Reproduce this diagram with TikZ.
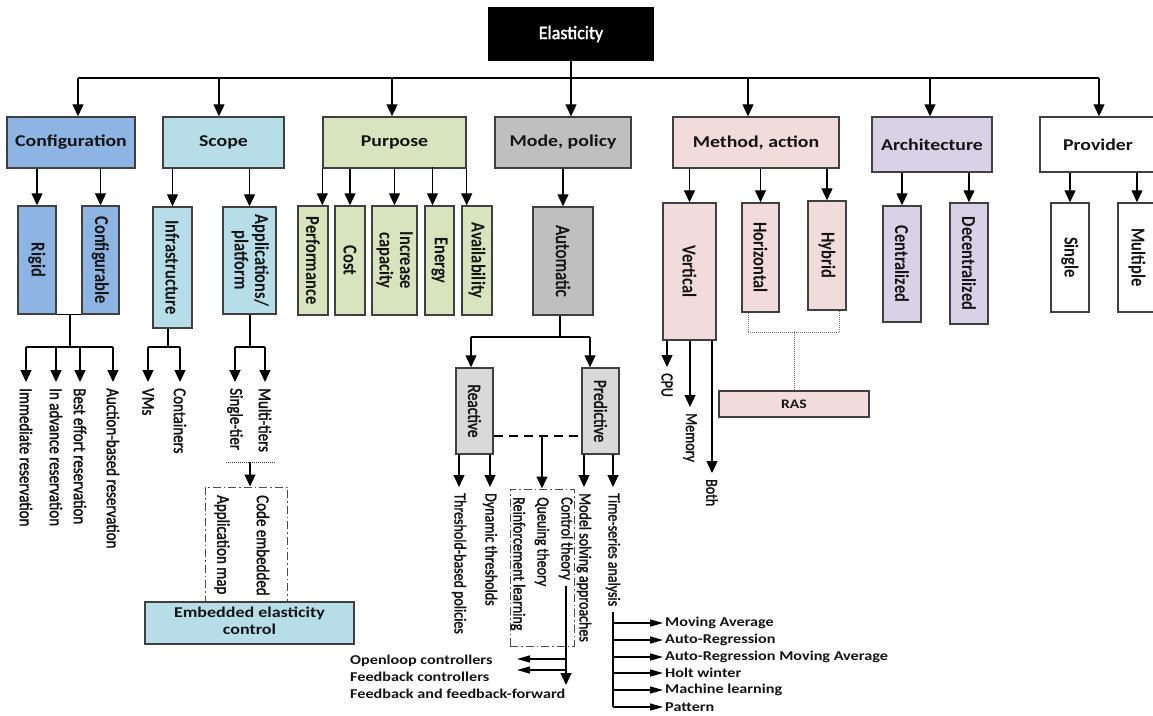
\documentclass[tikz,border=0pt]{standalone}
\usepackage{fontspec}
\setmainfont{Carlito}
\newfontfamily\medfont[FakeBold=2]{Carlito}
\usepackage{graphicx}
\usetikzlibrary{arrows.meta,calc}
\definecolor{cConf}{HTML}{8EB4E3}
\definecolor{cScope}{HTML}{B7DEE8}
\definecolor{cPurp}{HTML}{D7E4BD}
\definecolor{cMode}{HTML}{BFBFBF}
\definecolor{cReact}{HTML}{D9D9D9}
\definecolor{cMeth}{HTML}{F2DCDB}
\definecolor{cArch}{HTML}{D9D2E6}
\definecolor{cBord}{HTML}{404040}
\definecolor{cTxt}{HTML}{141414}
\newcommand{\hstr}[1]{\scalebox{1.2}[1]{#1}}
\newcommand{\vstr}[1]{\rotatebox{-90}{\scalebox{1}[1.2]{#1}}}
\newcommand{\vtwo}[2]{\rotatebox{-90}{\scalebox{1}[1.2]{\begin{tabular}{@{}c@{}}#1\\[-2pt]#2\end{tabular}}}}
\tikzset{
  box/.style={draw=cBord, line width=1.4pt, inner sep=0pt, text=cTxt, font=\bfseries\fontsize{16.5}{19}\selectfont},
  bx/.style 2 args={box, minimum width=#1pt, minimum height=#2pt},
  lab/.style={anchor=north, inner xsep=0pt, inner ysep=6pt, text=cTxt, font=\medfont\fontsize{15}{17}\selectfont},
  slab/.style={lab, font=\medfont\fontsize{14}{16}\selectfont},
  hlab/.style={anchor=west, inner xsep=2pt, inner ysep=0pt, text=cTxt, font=\bfseries\fontsize{13.5}{15}\selectfont},
  conn/.style={line width=1.2pt, draw=black},
  arr/.style={conn, -{Triangle[length=12pt,width=11pt]}},
  harr/.style={conn, -{Triangle[length=13pt,width=7pt]}},
  ddot/.style={draw=black!70, line width=1pt, dash pattern=on 8pt off 3pt on 1.5pt off 3pt, inner sep=0pt},
  dline/.style={conn, dash pattern=on 9pt off 6pt},
  dotl/.style={draw=black!55, line width=1pt, densely dotted},
}
\begin{document}
\begin{tikzpicture}[x=1pt,y=-1pt]
\useasboundingbox (0,0) rectangle (1153,715);
\clip (0,0) rectangle (1153,715);

% ---------- level 1 and 2
\node[bx={164}{52}, fill=black, draw=black, text=white, font=\medfont\fontsize{18}{20}\selectfont] (el) at (571,34) {\scalebox{1.0}[1.05]{Elasticity}};
\node[bx={128}{51}, fill=cConf] (conf) at (71,142.5) {\hstr{Configuration}};
\node[bx={121}{51}, fill=cScope] (scope) at (223.5,142.5) {\hstr{Scope}};
\node[bx={143}{51}, fill=cPurp] (purp) at (394.5,142.5) {\hstr{Purpose}};
\node[bx={136}{51}, fill=cMode] (mode) at (563,142.5) {\hstr{Mode, policy}};
\node[bx={166}{51}, fill=cMeth] (meth) at (756,142.5) {\hstr{Method, action}};
\node[bx={120}{55}, fill=cArch] (arch) at (932,144.5) {\hstr{Architecture}};
\node[bx={116}{55}, fill=white] (prov) at (1098,144.5) {\hstr{Provider}};

% ---------- level 3
\node[bx={38}{108}, fill=cConf] (rigid) at (37,260) {\vstr{Rigid}};
\node[bx={37}{108}, fill=cConf] (confg) at (100.5,260) {\vstr{Configurable}};
\node[bx={39}{121}, fill=cScope] (infra) at (172.5,267.5) {\vstr{Infrastructure}};
\node[bx={53}{107}, fill=cScope] (apps) at (249.5,260.5) {\vtwo{Applications/}{platform}};
\node[bx={30}{109}, fill=cPurp] (perf) at (313,260.5) {\vstr{Performance}};
\node[bx={30}{109}, fill=cPurp] (cost) at (350,260.5) {\vstr{Cost}};
\node[bx={45}{109}, fill=cPurp] (incr) at (394.5,260.5) {\vtwo{Increase}{capacity}};
\node[bx={29}{109}, fill=cPurp] (energy) at (439.5,260.5) {\vstr{Energy}};
\node[bx={30}{109}, fill=cPurp] (avail) at (477,260.5) {\vstr{Availability}};
\node[bx={60}{108}, fill=cMode, font=\medfont\fontsize{17}{19}\selectfont] (auto) at (563,261) {\vstr{Automatic}};
\node[bx={53}{137}, fill=cMeth] (vert) at (689.5,271.5) {\vstr{Vertical}};
\node[bx={37}{109}, fill=cMeth] (horiz) at (760.5,257.5) {\vstr{Horizontal}};
\node[bx={38}{109}, fill=cMeth] (hybrid) at (827,255.5) {\vstr{Hybrid}};
\node[bx={38}{116}, fill=cArch] (cent) at (902,264) {\vstr{Centralized}};
\node[bx={38}{121}, fill=cArch] (decent) at (969,263.5) {\vstr{Decentralized}};
\node[bx={38}{109}, fill=white] (single) at (1070,257.5) {\vstr{Single}};
\node[bx={38}{109}, fill=white] (multi) at (1137,257.5) {\vstr{Multiple}};

% ---------- deeper boxes
\node[bx={37}{86}, fill=cReact, font=\medfont\fontsize{15.5}{17}\selectfont] (react) at (474.5,411) {\vstr{Reactive}};
\node[bx={37}{86}, fill=cReact, font=\medfont\fontsize{15.5}{17}\selectfont] (pred) at (600.5,411) {\vstr{Predictive}};
\node[bx={150}{26}, fill=cMeth, font=\bfseries\fontsize{13}{15}\selectfont] (ras) at (794,404) {\hstr{RAS}};
\node[ddot, minimum width=82pt, minimum height=115pt] (dd1) at (246,544.5) {};
\node[bx={209}{42}, fill=cScope, font=\bfseries\fontsize{15}{17}\selectfont] (emb) at (249.5,623) {\hstr{\begin{tabular}{@{}c@{}}Embedded elasticity\\control\end{tabular}}};
\node[ddot, minimum width=64pt, minimum height=157pt] (dd2) at (542,567.5) {};

% ---------- rotated labels
\node[lab] (limm) at (26,382) {\vstr{Immediate reservation}};
\node[lab] (ladv) at (56,382) {\vstr{In advance reservation}};
\node[lab] (lbest) at (80,382) {\vstr{Best effort reservation}};
\node[lab] (lauc) at (113,382) {\vstr{Auction-based reservation}};
\node[lab] (lvms) at (148,382) {\vstr{VMs}};
\node[lab] (lcont) at (180,382) {\vstr{Containers}};
\node[lab] (lsing) at (235,382) {\vstr{Single-tier}};
\node[lab] (lmult) at (265,382) {\vstr{Multi-tiers}};
\node[lab] (lappm) at (222,489) {\vstr{Application map}};
\node[lab] (lcode) at (263,489) {\vstr{Code embedded}};
\node[slab] (lthr) at (459,487) {\vstr{Threshold-based policies}};
\node[slab] (ldyn) at (490,487) {\vstr{Dynamic thresholds}};
\node[slab] (lrl) at (518,491) {\vstr{Reinforcement learning}};
\node[slab] (lque) at (542,491) {\vstr{Queuing theory}};
\node[slab] (lctl) at (566,491) {\vstr{Control theory}};
\node[slab] (lmod) at (584,487) {\vstr{Model solving approaches}};
\node[slab] (lts) at (613,487) {\vstr{Time-series analysis}};
\node[slab] (lcpu) at (667,367) {\vstr{CPU}};
\node[slab] (lmem) at (690,407) {\vstr{Memory}};
\node[slab] (lboth) at (712,473) {\vstr{Both}};

% ---------- horizontal labels
\node[hlab] (lol) at (348,661) {\hstr{Openloop controllers}};
\node[hlab] (lfc) at (348,677) {\hstr{Feedback controllers}};
\node[hlab] (lff) at (348,694) {\hstr{Feedback and feedback-forward}};
\node[hlab] (lma) at (663,623) {\hstr{Moving Average}};
\node[hlab] (lar) at (663,640) {\hstr{Auto-Regression}};
\node[hlab] (larma) at (663,657) {\hstr{Auto-Regression Moving Average}};
\node[hlab] (lhw) at (663,673) {\hstr{Holt winter}};
\node[hlab] (lml) at (663,690) {\hstr{Machine learning}};
\node[hlab] (lpat) at (663,707) {\hstr{Pattern}};

% ---------- top bus
\coordinate (b1) at (78,78);
\coordinate (b2) at (219,78);
\coordinate (b3) at (392,78);
\coordinate (b5) at (748,78);
\coordinate (b6) at (930,78);
\coordinate (b7) at (1099,78);
\draw[arr] (el.south) -- (el.south |- mode.north);
\draw[conn] (b1) -- (b7);
\foreach \p/\n in {b1/conf,b2/scope,b3/purp,b5/meth,b6/arch,b7/prov}
  \draw[arr] (\p) -- (\p |- \n.north);

% ---------- level 2 -> 3
\foreach \a/\n in {conf/rigid,conf/confg,scope/infra,scope/apps,purp/cost,purp/incr,meth/vert,meth/horiz,meth/hybrid,arch/cent,arch/decent,prov/single,prov/multi}
  \draw[arr] (\a.south -| \n.north) -- (\n.north);
\draw[arr] (purp.south west) -- (purp.south west |- perf.north);
\draw[arr] ($(energy.north)+(-7,-38)$) -- ($(energy.north)+(-7,0)$);
\draw[arr] (purp.south east) -- (purp.south east |- avail.north);
\draw[arr] (mode.south) -- (auto.north);

% ---------- configuration children
\coordinate (cfb) at (70,347);
\draw[conn] (rigid.south east) -- (confg.south west);
\draw[conn] (cfb |- rigid.south) -- (cfb);
\draw[conn] (cfb -| limm.north) -- (cfb -| lauc.north);
\foreach \n in {limm,ladv,lbest,lauc} \draw[arr] (cfb -| \n.north) -- (\n.north);

% ---------- scope children
\coordinate (ib) at (168,347);
\draw[conn] (ib |- infra.south) -- (ib);
\draw[conn] (ib -| lvms.north) -- (ib -| lcont.north);
\foreach \n in {lvms,lcont} \draw[arr] (ib -| \n.north) -- (\n.north);
\coordinate (ab) at (250,347);
\draw[conn] (ab |- apps.south) -- (ab);
\draw[conn] (ab -| lsing.north) -- (ab -| lmult.north);
\foreach \n in {lsing,lmult} \draw[arr] (ab -| \n.north) -- (\n.north);
\coordinate (dt) at (250,462);
\draw[dotl, draw=black!75] ($(dt)+(-24,0)$) -- ($(dt)+(25,0)$);
\draw[arr] (dt) -- (dt |- dd1.north);

% ---------- automatic children
\coordinate (atb) at (560,337);
\coordinate (ra) at (471,337);
\coordinate (pa) at (590,337);
\draw[conn] (atb |- auto.south) -- (atb);
\draw[conn] (ra) -- (pa);
\draw[arr] (ra) -- (ra |- react.north);
\draw[arr] (pa) -- (pa |- pred.north);
\foreach \n in {lthr,ldyn} \draw[arr] (react.south -| \n.north) -- (\n.north);
\foreach \n in {lmod,lts} \draw[arr] (pred.south -| \n.north) -- (\n.north);
\coordinate (dsh) at (542,436);
\draw[dline] (react.east |- dsh) -- (pred.west |- dsh);
\draw[arr] (dsh) -- (dsh |- dd2.north);

% ---------- control theory
\coordinate (oa) at (517,659);
\coordinate (fa) at (517,670);
\coordinate (ffa) at (566,685);
\draw[arr] (lctl.south) -- (lctl.south |- ffa);
\draw[harr] (lctl.south |- oa) -- (oa);
\draw[harr] (lctl.south |- fa) -- (fa);

% ---------- time series
\draw[conn] (lts.south) -- (lts.south |- lpat.west);
\foreach \n in {lma,lar,larma,lhw,lml,lpat} \draw[harr] (lts.south |- \n.west) -- (\n.west);

% ---------- vertical children
\foreach \n in {lcpu,lmem,lboth} \draw[arr] (vert.south -| \n.north) -- (\n.north);

% ---------- RAS dotted
\draw[dotl] ($(horiz.south west)+(7,0)$) -- ($(horiz.south west)+(7,20)$) -- ($(hybrid.south east)+(-7,22)$) -- ($(hybrid.south east)+(-7,0)$);
\draw[dotl] (ras.north) -- ++(0,-59);
\end{tikzpicture}
\end{document}
